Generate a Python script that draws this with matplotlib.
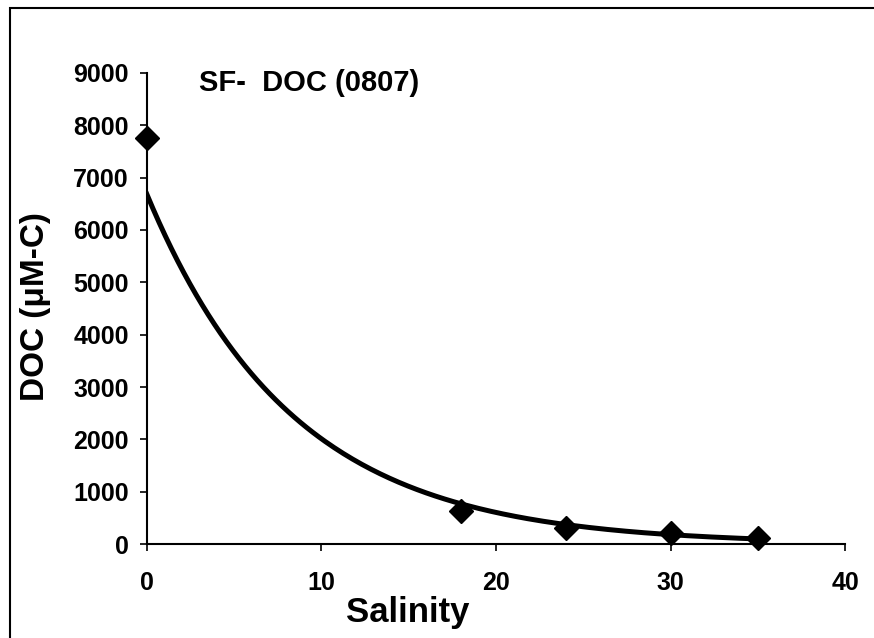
import numpy as np
import matplotlib.pyplot as plt
from matplotlib.patches import Rectangle

plt.rcParams['font.family'] = ['Liberation Sans', 'DejaVu Sans']
plt.rcParams['font.weight'] = 'bold'

# Observed samples
salinity = [0, 18, 24, 30, 35]
doc = [7750, 630, 300, 210, 115]

# Exponential trendline (least squares on log y, like a spreadsheet trendline)
b, a = np.polyfit(salinity, np.log(doc), 1)
xfit = np.linspace(0, 35, 200)
yfit = np.exp(a) * np.exp(b * xfit)

fig = plt.figure(figsize=(8.74, 6.38), dpi=100)
ax = fig.add_axes([0.168, 0.147, 0.799, 0.739])

ax.plot(xfit, yfit, color='black', linewidth=3.6, zorder=2)
ax.plot(salinity, doc, linestyle='none', marker='D', markersize=12.5,
        color='black', zorder=3, clip_on=False)

ax.set_xlim(0, 40)
ax.set_ylim(0, 9000)
ax.set_xticks([0, 10, 20, 30, 40])
ax.set_yticks(range(0, 9001, 1000))
ax.tick_params(axis='x', direction='out', length=5, width=1.2, pad=14, labelsize=18)
ax.tick_params(axis='y', direction='out', length=5, width=1.2, pad=8, labelsize=18)

for side in ['top', 'right']:
    ax.spines[side].set_visible(False)
for side in ['left', 'bottom']:
    ax.spines[side].set_linewidth(1.5)

ax.set_xlabel('Salinity', fontsize=25, fontweight='bold')
ax.set_ylabel('DOC (\u03bcM-C)', fontsize=24, fontweight='bold')
ax.xaxis.set_label_coords(0.374, -0.144)
ax.yaxis.set_label_coords(-0.16, 0.503)
ax.xaxis.label.set_va('center')
ax.yaxis.label.set_va('center')
ax.text(3.0, 8800, 'SF-  DOC (0807)', fontsize=21, fontweight='bold', va='center', ha='left')

# Outer frame
fig.patches.append(Rectangle((0.012, -0.01), 1.0, 0.997, transform=fig.transFigure,
                             fill=False, edgecolor='black', linewidth=1.5))

fig.savefig('out.png', dpi=100)
